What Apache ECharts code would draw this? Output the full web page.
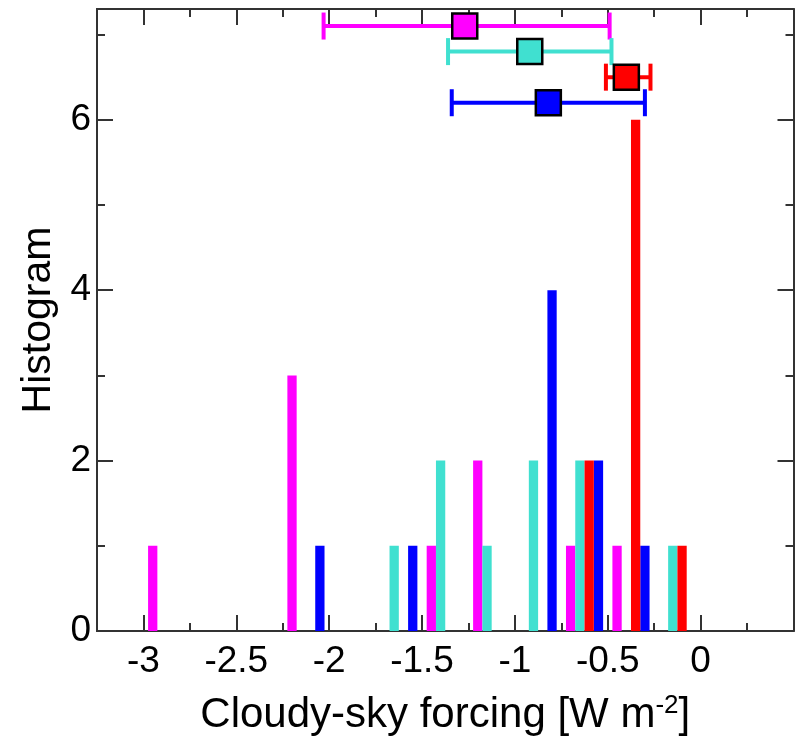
<!DOCTYPE html>
<html>
<head>
<meta charset="utf-8">
<script src="https://cdn.jsdelivr.net/npm/echarts@6/dist/echarts.min.js"></script>
<style>
html,body{margin:0;padding:0;background:#fff;}
#chart{width:798px;height:741px;}
</style>
</head>
<body>
<div id="chart"></div>
<script>
// ---- Histogram data (bin centre, count) ----
const magentaX = [-2.95, -2.2, -1.45, -1.2, -0.7, -0.45];
const magentaCount = [1, 3, 1, 2, 1, 1];
const turquoiseX = [-1.65, -1.4, -1.15, -0.9, -0.65, -0.15];
const turquoiseCount = [1, 2, 1, 2, 2, 1];
const blueX = [-2.05, -1.55, -0.8, -0.55, -0.3];
const blueCount = [1, 1, 4, 2, 1];
const redX = [-0.6, -0.35, -0.1];
const redCount = [2, 6, 1];
const binWidth = 0.05;

// ---- Summary markers with ranges ----
const summaryKeys = ['magenta', 'turquoise', 'red', 'blue'];
const summaryY = [7.1, 6.8, 6.5, 6.2];
const summaryCenter = [-1.27, -0.92, -0.4, -0.82];
const summaryLow = [-2.03, -1.36, -0.51, -1.34];
const summaryHigh = [-0.49, -0.48, -0.27, -0.3];

// ---- Axis ticks ----
const xMajorTicks = [-3, -2.5, -2, -1.5, -1, -0.5, 0, 0.5];
const xMinorTicks = [-2.75, -2.25, -1.75, -1.25, -0.75, -0.25, 0.25];
const xLabels = [-3, -2.5, -2, -1.5, -1, -0.5, 0];
const yLabels = [0, 2, 4, 6];

const colors = {magenta: '#FF00FF', turquoise: '#40E0D0', red: '#FF0000', blue: '#0000FF'};
const FONT = 'Liberation Sans, Arial, Helvetica, sans-serif';
const AX = '#333';

function zip(xs, ys) { return xs.map((x, i) => [x, ys[i]]); }

function barSeries(name, xs, ys) {
  return {
    type: 'custom', name: name, xAxisIndex: 0, yAxisIndex: 0, z: 2,
    data: zip(xs, ys),
    renderItem: function (params, api) {
      const x = api.value(0), h = api.value(1);
      const p0 = api.coord([x - binWidth / 2, 0]);
      const p1 = api.coord([x + binWidth / 2, h]);
      return {type: 'rect', shape: {x: p0[0], y: p1[1], width: p1[0] - p0[0], height: p0[1] - p1[1]},
        style: {fill: colors[name]}};
    }
  };
}

const errData = summaryKeys.map((k, i) => [summaryLow[i], summaryHigh[i], summaryY[i], i]);
const errSeries = {
  type: 'custom', xAxisIndex: 0, yAxisIndex: 0, z: 3,
  data: errData,
  renderItem: function (params, api) {
    const lo = api.coord([api.value(0), api.value(2)]);
    const hi = api.coord([api.value(1), api.value(2)]);
    const c = colors[summaryKeys[api.value(3)]];
    const half = 13.5;
    const st = {stroke: c, lineWidth: 4, fill: null};
    return {type: 'group', children: [
      {type: 'line', shape: {x1: lo[0], y1: lo[1], x2: hi[0], y2: hi[1]}, style: st},
      {type: 'line', shape: {x1: lo[0], y1: lo[1] - half, x2: lo[0], y2: lo[1] + half}, style: st},
      {type: 'line', shape: {x1: hi[0], y1: hi[1] - half, x2: hi[0], y2: hi[1] + half}, style: st}
    ]};
  }
};

const markerSeries = {
  type: 'scatter', xAxisIndex: 0, yAxisIndex: 0, z: 4,
  symbol: 'rect', symbolSize: 25,
  data: summaryKeys.map((k, i) => ({value: [summaryCenter[i], summaryY[i]],
    itemStyle: {color: colors[k], borderColor: '#000', borderWidth: 2.5, opacity: 1}})),
  itemStyle: {opacity: 1},
  emphasis: {disabled: true}
};

function xAxisDef(pos, ticks, len, labels, named) {
  return {
    type: 'value', position: pos, min: -3.25, max: 0.5, gridIndex: 0,
    axisLine: {show: true, onZero: false, lineStyle: {color: AX, width: 2}},
    axisTick: {show: true, inside: true, length: len, customValues: ticks, lineStyle: {color: AX, width: 2}},
    axisLabel: labels ? {show: true, customValues: xLabels, fontSize: 37, fontFamily: FONT, color: '#000', margin: 12,
      formatter: v => String(v)} : {show: false},
    splitLine: {show: false},
    name: named ? 'Cloudy-sky forcing [W m{sup|-2}]' : '',
    nameLocation: 'middle', nameGap: 62,
    nameTextStyle: {fontSize: 42, fontFamily: FONT, color: '#000',
      rich: {sup: {fontSize: 26, fontFamily: FONT, color: '#000', verticalAlign: 'top', padding: [0, 0, 18, 0]}}}
  };
}

function yAxisDef(pos, labels) {
  return {
    type: 'value', position: pos, min: 0, max: 7.3, interval: 2, gridIndex: 0,
    axisLine: {show: true, onZero: false, lineStyle: {color: AX, width: 2}},
    axisTick: {show: true, inside: true, length: 16, lineStyle: {color: AX, width: 2}},
    minorTick: {show: true, splitNumber: 2, length: 8, lineStyle: {color: AX, width: 2}},
    axisLabel: labels ? {show: true, fontSize: 37, fontFamily: FONT, color: '#000', margin: 6,
      formatter: v => (yLabels.indexOf(v) >= 0 ? String(v) : '')} : {show: false},
    splitLine: {show: false}, minorSplitLine: {show: false},
    name: labels ? 'Histogram' : '', nameLocation: 'middle', nameGap: 38,
    nameTextStyle: {fontSize: 41, fontFamily: FONT, color: '#000'}
  };
}

const chart = echarts.init(document.getElementById('chart'), null, {renderer: 'canvas'});
chart.setOption({
  animation: false,
  backgroundColor: '#fff',
  grid: {left: 97, right: 4.5, top: 9, bottom: 104, containLabel: false},
  xAxis: [
    xAxisDef('bottom', xMajorTicks, 16, true, true),
    xAxisDef('bottom', xMinorTicks, 8, false, false),
    xAxisDef('top', xMajorTicks, 16, false, false),
    xAxisDef('top', xMinorTicks, 8, false, false)
  ],
  yAxis: [yAxisDef('left', true), yAxisDef('right', false)],
  series: [
    barSeries('magenta', magentaX, magentaCount),
    barSeries('turquoise', turquoiseX, turquoiseCount),
    barSeries('blue', blueX, blueCount),
    barSeries('red', redX, redCount),
    errSeries,
    markerSeries
  ]
});
</script>
</body>
</html>
